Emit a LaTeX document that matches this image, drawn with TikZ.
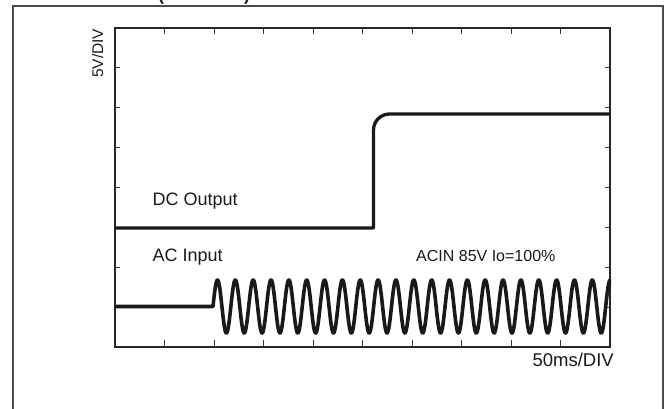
\documentclass[tikz,border=0pt]{standalone}
\usepackage{fontspec}
\setmainfont{Liberation Sans}
\begin{document}
\begin{tikzpicture}[x=1pt,y=-1pt,
  frame/.style={draw=black!70, line width=1.1pt},
  plotbox/.style={draw=black!85, line width=1.2pt},
  tickmark/.style={draw=black!80, line width=1pt},
  dcline/.style={draw=black!90, line width=3.3pt, line join=round},
  acline/.style={draw=black!90, line width=3.6pt, line join=round, line cap=butt},
  lbl/.style={text=black!90, inner sep=0pt, anchor=base west},
]
\useasboundingbox (0,0) rectangle (672,408);
\clip (0,0) rectangle (672,408);
% partially visible heading (only parentheses bottoms show)
\node[text=black!90, inner sep=0pt, anchor=base, font=\bfseries\fontsize{18}{20}\selectfont] (head) at (204,0) {(\hspace{80pt})};
% outer frame
\draw[frame] (13,6) rectangle (663,430);
% plot box
\coordinate (bl) at (115,347);
\coordinate (tr) at (610,28);
\draw[plotbox] (bl) rectangle (tr);
\foreach \i in {1,...,9} {
  \draw[tickmark] ({115+\i*49.5},28) -- ++(0,6);
  \draw[tickmark] ({115+\i*49.5},347) -- ++(0,-7);
}
\foreach \j in {1,...,7} {
  \draw[tickmark] (115,{28+\j*39.875}) -- ++(5,0);
  \draw[tickmark] (610,{28+\j*39.875}) -- ++(-5,0);
}
% DC output trace
\coordinate (dc0) at (115,228);
\coordinate (dc1) at (373.5,228);
\coordinate (dc2) at (373.5,130);
\coordinate (dc3) at (389.5,114);
\coordinate (dc4) at (610,114);
\draw[dcline] (dc0) -- (dc1) -- (dc2) .. controls (373.5,121.2) and (380.7,114) .. (dc3) -- (dc4);
% AC input trace
\coordinate (ac0) at (115,306.5);
\coordinate (ac1) at (213,306.5);
\begin{scope}
\clip (100,250) rectangle (611,360);
\draw[acline] (ac0) -- (ac1) -- plot[domain=213:612, samples=1200] (\x,{306.5-26.5*sin((\x-213)*20.1681)});
\end{scope}
% labels
\node[lbl, font=\fontsize{15.5}{18}\selectfont, rotate=90] (ylab) at (103,78) {5V/DIV};
\node[lbl, font=\fontsize{18}{20}\selectfont] (dclab) at (152.5,205.5) {DC Output};
\node[lbl, font=\fontsize{18}{20}\selectfont] (aclab) at (152.5,261) {AC Input};
\node[lbl, font=\fontsize{16}{18}\selectfont] (cond) at (416,261) {ACIN 85V Io=100\%};
\node[text=black!90, inner sep=0pt, anchor=base east, font=\fontsize{18.5}{20}\selectfont] (xlab) at (614,366) {50ms/DIV};
\end{tikzpicture}
\end{document}
